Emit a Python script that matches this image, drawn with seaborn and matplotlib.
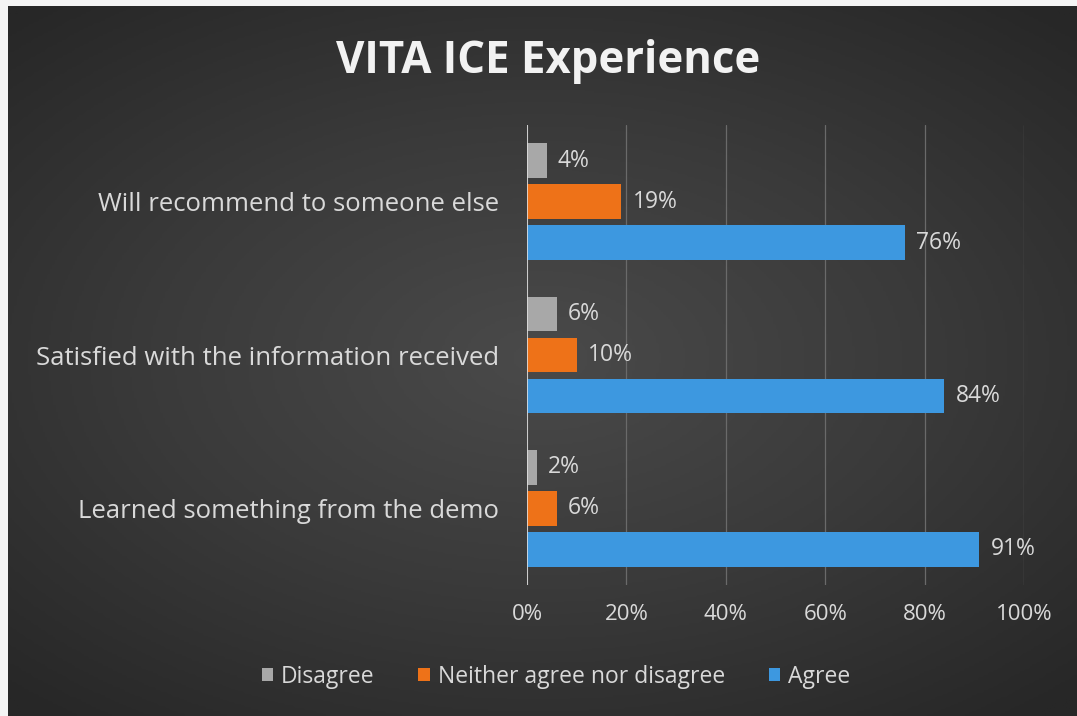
import numpy as np
import pandas as pd
import matplotlib
matplotlib.use('Agg')
import matplotlib.pyplot as plt
from matplotlib.patches import Rectangle
import seaborn as sns

# Data
statements = ['Will recommend to someone else',
              'Satisfied with the information received',
              'Learned something from the demo']
responses = ['Disagree', 'Neither agree nor disagree', 'Agree']
disagree = [4, 6, 2]
neither = [19, 10, 6]
agree = [76, 84, 91]
x_ticks = [0, 20, 40, 60, 80, 100]

colors = {'Disagree': '#a8a8a8',
          'Neither agree nor disagree': '#ee7218',
          'Agree': '#3d98e0'}
text_color = '#d9d9d9'

df = pd.DataFrame({
    'statement': statements * 3,
    'response': [r for r in responses for _ in statements],
    'pct': disagree + neither + agree,
})

sns.set_theme(style='dark')
plt.rcParams['font.family'] = ['Open Sans', 'DejaVu Sans']

fig = plt.figure(figsize=(10.77, 7.16), dpi=100)
fig.patch.set_facecolor('#2a2a2a')

# dark radial background panel
bg = fig.add_axes([0, 0, 1, 1], zorder=-5)
yy, xx = np.mgrid[-1:1:300j, -1:1:450j]
r = np.sqrt((xx * 0.9) ** 2 + (yy * 1.0) ** 2)
bg.imshow(r, cmap=matplotlib.colors.LinearSegmentedColormap.from_list(
    'bgg', ['#4a4a4a', '#3a3a3a', '#272727']), aspect='auto',
    extent=[0, 1, 0, 1], vmin=0, vmax=1.3)
bg.axis('off')
# light strips on the top and left edge of the screenshot
fig.patches.append(Rectangle((0, 0), 8 / 1077, 1, transform=fig.transFigure,
                             facecolor='#f4f4f4', edgecolor='none', zorder=10))
fig.patches.append(Rectangle((0, 1 - 6 / 716), 1, 6 / 716, transform=fig.transFigure,
                             facecolor='#f4f4f4', edgecolor='none', zorder=10))

ax = fig.add_axes([527 / 1077, 1 - 585 / 716, (1024 - 527) / 1077, (585 - 125) / 716])
ax.set_facecolor('none')

sns.barplot(data=df, y='statement', x='pct', hue='response',
            order=statements, hue_order=responses, palette=colors,
            orient='h', width=0.8, gap=0.15, ax=ax, saturation=1,
            linewidth=0, edgecolor='none')

for cont in ax.containers:
    ax.bar_label(cont, fmt='%d%%', padding=8, color=text_color, fontsize=16.5)

ax.set_xlim(0, 100)
ax.set_xticks(x_ticks)
ax.set_xticklabels([f'{t}%' for t in x_ticks], color=text_color, fontsize=16)
ax.tick_params(axis='y', labelsize=18.5, labelcolor=text_color, length=0, pad=20)
ax.tick_params(axis='x', length=0, pad=14)
ax.set_xlabel('')
ax.set_ylabel('')
ax.grid(axis='x', color='#6a6a6a', linewidth=0.9)
ax.grid(axis='y', visible=False)
for s in ax.spines.values():
    s.set_visible(False)
ax.axvline(0, color='#e0e0e0', linewidth=1.2)

handles, labels = ax.get_legend_handles_labels()
ax.get_legend().remove()
leg = fig.legend(handles, labels, loc='center', bbox_to_anchor=(556 / 1077, 1 - 677 / 716),
                 ncol=3, frameon=False, fontsize=16.5, handlelength=0.5, handleheight=0.5,
                 handletextpad=0.35, columnspacing=1.9)
for t in leg.get_texts():
    t.set_color(text_color)

fig.text(548 / 1077, 1 - 62 / 716, 'VITA ICE Experience', ha='center', va='center',
         fontsize=31.5, fontweight='bold', color='#f2f2f2')

fig.savefig('out.png', dpi=100, facecolor=fig.get_facecolor())
